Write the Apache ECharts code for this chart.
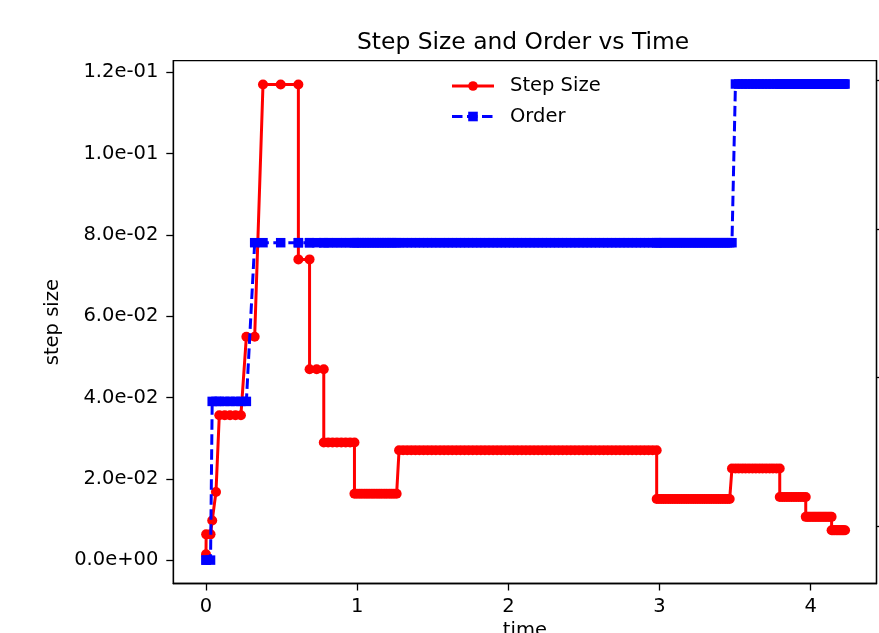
<!DOCTYPE html>
<html>
<head>
<meta charset="utf-8">
<script src="https://cdn.jsdelivr.net/npm/echarts@6/dist/echarts.min.js"></script>
<style>html,body{margin:0;padding:0;background:#fff}#c{width:879px;height:633px}</style>
</head>
<body>
<div id="c"></div>
<script>
// ---- data ----
const time = [
  0.000, 0.001, 0.030, 0.041, 0.066,
  0.088, 0.124, 0.159, 0.195, 0.231,
  0.267, 0.322,
  0.377, 0.494, 0.611,
  0.611, 0.685,
  0.685, 0.732, 0.779,
  0.779, 0.808, 0.837, 0.866, 0.895, 0.924, 0.953, 0.982,
  0.982, 0.998, 1.015, 1.031, 1.048, 1.064, 1.080, 1.097, 1.113, 1.130, 1.146, 1.162, 1.179, 1.195, 1.212, 1.228, 1.244, 1.261,
  1.277, 1.304, 1.331, 1.358, 1.385, 1.412, 1.439, 1.466, 1.493, 1.520, 1.548, 1.575, 1.602, 1.629, 1.656, 1.683,
  1.710, 1.737, 1.764, 1.791, 1.818, 1.845, 1.872, 1.899, 1.926, 1.953, 1.980, 2.007, 2.034, 2.061, 2.089, 2.116,
  2.143, 2.170, 2.197, 2.224, 2.251, 2.278, 2.305, 2.332, 2.359, 2.386, 2.413, 2.440, 2.467, 2.494, 2.521, 2.548,
  2.575, 2.603, 2.630, 2.657, 2.684, 2.711, 2.738, 2.765, 2.792, 2.819, 2.846, 2.873, 2.900, 2.927, 2.954, 2.981,
  2.981, 2.996, 3.011, 3.026, 3.041, 3.057, 3.072, 3.087, 3.102, 3.117, 3.132, 3.147, 3.162, 3.177, 3.192, 3.208,
  3.223, 3.238, 3.253, 3.268, 3.283, 3.298, 3.313, 3.328, 3.343, 3.359, 3.374, 3.389, 3.404, 3.419, 3.434, 3.449, 3.464,
  3.479, 3.502, 3.524, 3.547, 3.569, 3.592, 3.615, 3.637, 3.660, 3.682, 3.705, 3.728, 3.750, 3.773, 3.795,
  3.795, 3.811, 3.826, 3.842, 3.857, 3.873, 3.889, 3.904, 3.920, 3.935, 3.951, 3.967,
  3.967, 3.978, 3.988, 3.999, 4.010, 4.021, 4.031, 4.042, 4.053, 4.063, 4.074, 4.085, 4.095, 4.106, 4.117, 4.128, 4.138,
  4.138, 4.145, 4.153, 4.160, 4.168, 4.175, 4.182, 4.190, 4.197, 4.205, 4.212, 4.219, 4.227
];
const stepSize = [
  0.0015, 0.0064, 0.0064, 0.0098, 0.0168,
  0.0357, 0.0357, 0.0357, 0.0357, 0.0357,
  0.055, 0.055,
  0.117, 0.117, 0.117,
  0.074, 0.074,
  0.047, 0.047, 0.047,
  0.029, 0.029, 0.029, 0.029, 0.029, 0.029, 0.029, 0.029,
  0.0164, 0.0164, 0.0164, 0.0164, 0.0164, 0.0164, 0.0164, 0.0164, 0.0164, 0.0164, 0.0164, 0.0164, 0.0164, 0.0164, 0.0164, 0.0164, 0.0164, 0.0164,
  0.0271, 0.0271, 0.0271, 0.0271, 0.0271, 0.0271, 0.0271, 0.0271, 0.0271, 0.0271, 0.0271, 0.0271, 0.0271, 0.0271, 0.0271, 0.0271,
  0.0271, 0.0271, 0.0271, 0.0271, 0.0271, 0.0271, 0.0271, 0.0271, 0.0271, 0.0271, 0.0271, 0.0271, 0.0271, 0.0271, 0.0271, 0.0271,
  0.0271, 0.0271, 0.0271, 0.0271, 0.0271, 0.0271, 0.0271, 0.0271, 0.0271, 0.0271, 0.0271, 0.0271, 0.0271, 0.0271, 0.0271, 0.0271,
  0.0271, 0.0271, 0.0271, 0.0271, 0.0271, 0.0271, 0.0271, 0.0271, 0.0271, 0.0271, 0.0271, 0.0271, 0.0271, 0.0271, 0.0271, 0.0271,
  0.0151, 0.0151, 0.0151, 0.0151, 0.0151, 0.0151, 0.0151, 0.0151, 0.0151, 0.0151, 0.0151, 0.0151, 0.0151, 0.0151, 0.0151, 0.0151,
  0.0151, 0.0151, 0.0151, 0.0151, 0.0151, 0.0151, 0.0151, 0.0151, 0.0151, 0.0151, 0.0151, 0.0151, 0.0151, 0.0151, 0.0151, 0.0151, 0.0151,
  0.0226, 0.0226, 0.0226, 0.0226, 0.0226, 0.0226, 0.0226, 0.0226, 0.0226, 0.0226, 0.0226, 0.0226, 0.0226, 0.0226, 0.0226,
  0.0156, 0.0156, 0.0156, 0.0156, 0.0156, 0.0156, 0.0156, 0.0156, 0.0156, 0.0156, 0.0156, 0.0156,
  0.0107, 0.0107, 0.0107, 0.0107, 0.0107, 0.0107, 0.0107, 0.0107, 0.0107, 0.0107, 0.0107, 0.0107, 0.0107, 0.0107, 0.0107, 0.0107, 0.0107,
  0.0074, 0.0074, 0.0074, 0.0074, 0.0074, 0.0074, 0.0074, 0.0074, 0.0074, 0.0074, 0.0074, 0.0074, 0.0074
];
const order = [
  1, 1, 1, 2, 2,
  2, 2, 2, 2, 2,
  2, 3,
  3, 3, 3,
  3, 3,
  3, 3, 3,
  3, 3, 3, 3, 3, 3, 3, 3,
  3, 3, 3, 3, 3, 3, 3, 3, 3, 3, 3, 3, 3, 3, 3, 3, 3, 3,
  3, 3, 3, 3, 3, 3, 3, 3, 3, 3, 3, 3, 3, 3, 3, 3,
  3, 3, 3, 3, 3, 3, 3, 3, 3, 3, 3, 3, 3, 3, 3, 3,
  3, 3, 3, 3, 3, 3, 3, 3, 3, 3, 3, 3, 3, 3, 3, 3,
  3, 3, 3, 3, 3, 3, 3, 3, 3, 3, 3, 3, 3, 3, 3, 3,
  3, 3, 3, 3, 3, 3, 3, 3, 3, 3, 3, 3, 3, 3, 3, 3,
  3, 3, 3, 3, 3, 3, 3, 3, 3, 3, 3, 3, 3, 3, 3, 3, 3,
  3, 4, 4, 4, 4, 4, 4, 4, 4, 4, 4, 4, 4, 4, 4,
  4, 4, 4, 4, 4, 4, 4, 4, 4, 4, 4, 4,
  4, 4, 4, 4, 4, 4, 4, 4, 4, 4, 4, 4, 4, 4, 4, 4, 4,
  4, 4, 4, 4, 4, 4, 4, 4, 4, 4, 4, 4, 4
];
const xTicks = [0, 1, 2, 3, 4];
const yTicks = [0, 0.02, 0.04, 0.06, 0.08, 0.10, 0.12];
const rightTicks = [1, 2, 3, 4];
// ---------------------------------------

const FONT = 'DejaVu Sans';
const fmtExp = v => {
  const parts = Number(v).toExponential(1).split('e');
  const e = parts[1];
  return parts[0] + 'e' + e[0] + e.slice(1).padStart(2, '0');
};
const stepData = time.map((t, i) => [t, stepSize[i]]);
const orderData = time.map((t, i) => [t, order[i]]);

const chart = echarts.init(document.getElementById('c'), null, {renderer: 'canvas'});
chart.setOption({
  animation: false,
  backgroundColor: '#fff',
  title: {
    text: 'Step Size and Order vs Time',
    left: 357, top: 31, padding: 0,
    textStyle: {fontFamily: FONT, fontSize: 23.4, fontWeight: 'normal', color: '#000'}
  },
  legend: {
    left: 450.5, top: 76, padding: 0, orient: 'vertical',
    itemWidth: 42, itemHeight: 12, itemGap: 10.5,
    lineStyle: {width: 3},
    textStyle: {fontFamily: FONT, fontSize: 19.5, color: '#000', padding: [0, 0, 0, 11]},
    data: ['Step Size', 'Order']
  },
  grid: {
    left: 173.3, right: 2.5, top: 60.7, bottom: 49.5,
    outerBoundsMode: 'none', containLabel: false,
    show: true, borderColor: '#000', borderWidth: 1.3, backgroundColor: 'transparent'
  },
  xAxis: {
    type: 'value', min: -0.2163, max: 4.435,
    name: 'time', nameLocation: 'middle', nameGap: 37,
    nameTextStyle: {fontFamily: FONT, fontSize: 19.5, color: '#000'},
    axisLine: {show: true, onZero: false, lineStyle: {color: '#000', width: 1.3}},
    axisTick: {show: true, length: 7, customValues: xTicks, lineStyle: {color: '#000', width: 1.3}},
    axisLabel: {customValues: xTicks, margin: 13, fontFamily: FONT, fontSize: 19.5, color: '#000'},
    splitLine: {show: false}
  },
  yAxis: [
    {
      type: 'value', position: 'left', min: -0.00568, max: 0.12285,
      name: 'step size', nameLocation: 'middle', nameGap: 100, nameRotate: 90,
      nameTextStyle: {fontFamily: FONT, fontSize: 19.5, color: '#000'},
      axisLine: {show: true, onZero: false, lineStyle: {color: '#000', width: 1.3}},
      axisTick: {show: true, length: 7, customValues: yTicks, lineStyle: {color: '#000', width: 1.3}},
      axisLabel: {customValues: yTicks, margin: 15, formatter: fmtExp, fontFamily: FONT, fontSize: 19.5, color: '#000'},
      splitLine: {show: false}
    },
    {
      type: 'value', position: 'right', min: 0.8526, max: 4.1468,
      show: false, splitLine: {show: false}
    },
    {
      type: 'value', position: 'right', min: 0.6125, max: 4.1348,
      axisLine: {show: true, onZero: false, lineStyle: {color: '#000', width: 1.3}},
      axisTick: {show: true, length: 7, customValues: rightTicks, lineStyle: {color: '#000', width: 1.3}},
      axisLabel: {show: false},
      splitLine: {show: false}
    }
  ],
  series: [
    {
      name: 'Step Size', type: 'line', xAxisIndex: 0, yAxisIndex: 0,
      data: stepData, symbol: 'circle', symbolSize: 10, showSymbol: true, showAllSymbol: true,
      itemStyle: {color: '#ff0000'},
      lineStyle: {color: '#ff0000', width: 3},
      z: 2
    },
    {
      name: 'Order', type: 'line', xAxisIndex: 0, yAxisIndex: 1,
      data: orderData, symbol: 'rect', symbolSize: 9.5, showSymbol: true, showAllSymbol: true,
      itemStyle: {color: '#0000ff'},
      lineStyle: {color: '#0000ff', width: 3, type: [10.5, 4.5]},
      z: 3
    }
  ]
});
</script>
</body>
</html>
